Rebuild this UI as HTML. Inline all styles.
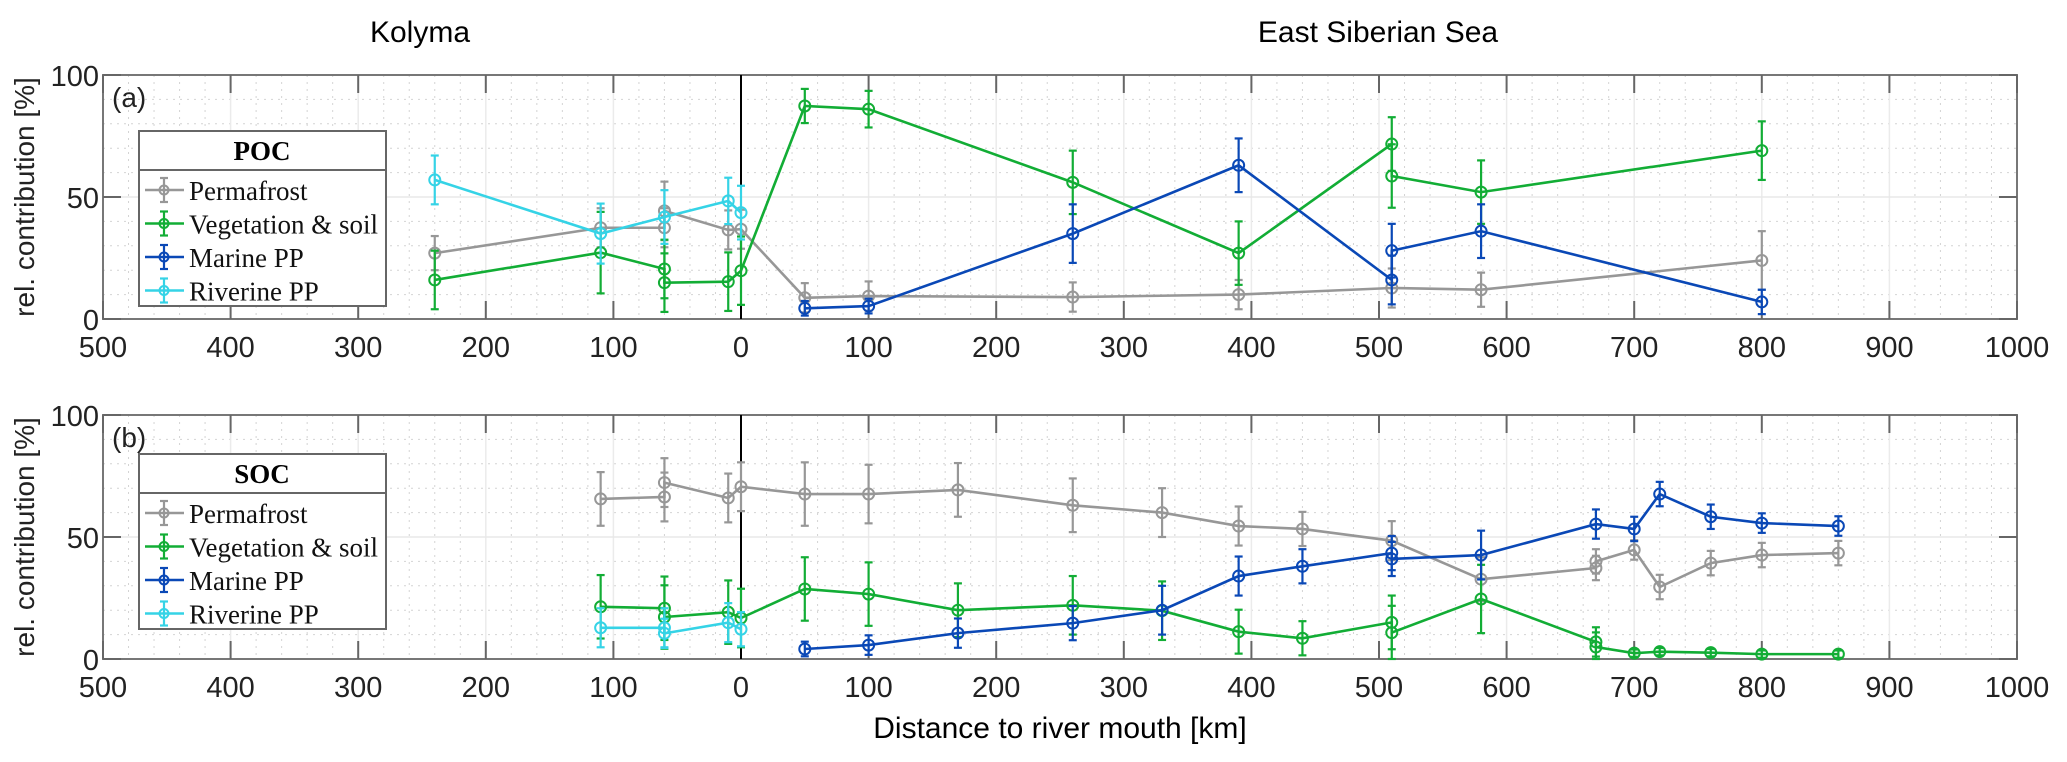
<!DOCTYPE html>
<html><head><meta charset="utf-8">
<style>
html,body{margin:0;padding:0;background:#fff;}
svg{display:block;}
text{font-family:"Liberation Sans",sans-serif;}
.serif{font-family:"Liberation Serif",serif;}
</style></head>
<body>
<svg id="chart" width="2067" height="762" viewBox="0 0 2067 762" xmlns="http://www.w3.org/2000/svg">
<text x="420" y="42" font-size="30" text-anchor="middle">Kolyma</text>
<text x="1378" y="42" font-size="30" text-anchor="middle">East Siberian Sea</text>
<text x="1060" y="738" font-size="30" text-anchor="middle">Distance to river mouth [km]</text>
<g id="panels"></g>
</svg>
<script>
// ---- data ----
const xTicks = [-500,-400,-300,-200,-100,0,100,200,300,400,500,600,700,800,900,1000];
const xTickLabels = ["500","400","300","200","100","0","100","200","300","400","500","600","700","800","900","1000"];
const yTicks = [0,50,100];
const yTickLabels = ["0","50","100"];
const seriesNames = ["Permafrost","Vegetation & soil","Marine PP","Riverine PP"];

// POC (panel a): x distance, y value, e error
const pocPermX = [-240,-110,-60,-60,-10,0,50,100,260,390,510,580,800];
const pocPermY = [27,37.4,37.4,44.3,36.5,36.8,8.7,9.4,9,10,12.7,12,24];
const pocPermE = [7,8,8,12,8,8,6,6,6,6,8,7,12];
const pocVegX = [-240,-110,-60,-60,-10,0,50,100,260,390,510,510,580,800];
const pocVegY = [16,27.2,20.5,14.9,15.3,19.8,87.3,86,56,27,71.7,58.6,52,69];
const pocVegE = [12,16.7,12,12,12,14,7,7.5,13,13,11,13,13,12];
const pocMarX = [50,100,260,390,510,510,580,800];
const pocMarY = [4.4,5.3,35,63,16,28,36,7];
const pocMarE = [3,3,12,11,10,11,11,5];
const pocRivX = [-240,-110,-60,-10,0];
const pocRivY = [57,35,41.8,48.4,43.6];
const pocRivE = [10,12.3,11,9.5,11];

// SOC (panel b)
const socPermX = [-110,-60,-60,-10,0,50,100,170,260,330,390,440,510,580,670,670,700,720,760,800,860];
const socPermY = [65.6,66.4,72.3,66,70.6,67.6,67.6,69.3,63,60,54.5,53.3,48.5,32.7,37.3,40,44.7,29.5,39.3,42.6,43.4];
const socPermE = [11,10,10,10,10,13,12,11,11,10,8,7,8,9,5,5,4,5,5,5,5];
const socVegX = [-110,-60,-60,-10,0,50,100,170,260,330,390,440,510,510,580,670,670,700,720,760,800,860];
const socVegY = [21.4,20.8,17.2,19.2,16.8,28.7,26.6,20,22,19.8,11.2,8.5,15,10.8,24.6,7,4.9,2.4,3,2.6,2,2];
const socVegE = [13,13,13,13,12,13,13,11,12,12,9,7,11,11,14,6,6,1.5,1.5,1.5,1.5,1.5];
const socMarX = [50,100,170,260,330,390,440,510,510,580,670,700,720,760,800,860];
const socMarY = [4.1,5.7,10.6,14.7,20,34,38,43.4,41,42.6,55.3,53.3,67.6,58.3,55.7,54.5];
const socMarE = [3,4,6,7,10,8,7,7,7,10,6,5,5,5,4,4];
const socRivX = [-110,-60,-60,-10,0];
const socRivY = [12.8,12.8,10.5,14.9,12.2];
const socRivE = [8,8,6,8,7];

const colors = ["#979797","#12ad35","#0a48b6","#35d3e6"];

// ---- layout ----
const L = 103, R = 2017;
const panels = [
  {top:75, bot:319, tag:"(a)", name:"poc", title:"POC",
   series:[[pocPermX,pocPermY,pocPermE],[pocVegX,pocVegY,pocVegE],[pocMarX,pocMarY,pocMarE],[pocRivX,pocRivY,pocRivE]],
   legTop:131, legBot:306},
  {top:415, bot:659, tag:"(b)", name:"soc", title:"SOC",
   series:[[socPermX,socPermY,socPermE],[socVegX,socVegY,socVegE],[socMarX,socMarY,socMarE],[socRivX,socRivY,socRivE]],
   legTop:454, legBot:629}
];
const NS = "http://www.w3.org/2000/svg";
const root = document.getElementById('panels');
function mk(tag, attrs, parent){
  const e = document.createElementNS(NS, tag);
  for (const k in attrs) e.setAttribute(k, attrs[k]);
  (parent||root).appendChild(e);
  return e;
}
const xs = v => L + (v + 500) / 1500 * (R - L);

panels.forEach((p) => {
  const ys = v => p.bot - v / 100 * (p.bot - p.top);
  const g = mk('g', {});
  
  
  // minor grid
  for (let v = -500; v <= 1000; v += 20) {
    if (v % 100 === 0) continue;
    mk('line', {x1:xs(v), x2:xs(v), y1:p.top, y2:p.bot, stroke:'#d4d4d4', 'stroke-width':1, 'stroke-dasharray':'2,5'}, g);
  }
  for (let v = 10; v < 100; v += 10) {
    if (v === 50) continue;
    mk('line', {x1:L, x2:R, y1:ys(v), y2:ys(v), stroke:'#d4d4d4', 'stroke-width':1, 'stroke-dasharray':'2,5'}, g);
  }
  // major grid
  xTicks.forEach(v => mk('line', {x1:xs(v), x2:xs(v), y1:p.top, y2:p.bot, stroke:'#ebebeb', 'stroke-width':1.5}, g));
  mk('line', {x1:L, x2:R, y1:ys(50), y2:ys(50), stroke:'#e8e8e8', 'stroke-width':1.5}, g);
  // axes box
  const box = mk('rect', {x:L, y:p.top, width:R-L, height:p.bot-p.top, fill:'none', stroke:'#777', 'stroke-width':2}, g);
  
  
  // ticks
  xTicks.forEach((v,i) => {
    mk('line', {x1:xs(v), x2:xs(v), y1:p.bot, y2:p.bot-18, stroke:'#666', 'stroke-width':2}, g);
    mk('line', {x1:xs(v), x2:xs(v), y1:p.top, y2:p.top+18, stroke:'#666', 'stroke-width':2}, g);
    const t = mk('text', {x:xs(v), y:p.bot+38, 'font-size':29, 'text-anchor':'middle', fill:'#222'}, g);
    t.textContent = xTickLabels[i];
    
    
  });
  yTicks.forEach((v,i) => {
    mk('line', {x1:L, x2:L+18, y1:ys(v), y2:ys(v), stroke:'#666', 'stroke-width':2}, g);
    mk('line', {x1:R, x2:R-18, y1:ys(v), y2:ys(v), stroke:'#666', 'stroke-width':2}, g);
    const t = mk('text', {x:L-4, y:ys(v)+11, 'font-size':29, 'text-anchor':'end', fill:'#222'}, g);
    t.textContent = yTickLabels[i];
    
    
  });
  // y title
  const yc = (p.top + p.bot) / 2;
  const yt = mk('text', {x:0, y:0, 'font-size':28, 'text-anchor':'middle', transform:'translate(34,'+yc+') rotate(-90)', fill:'#222'}, g);
  yt.textContent = 'rel. contribution [%]';
  
  
  // panel tag
  const tg = mk('text', {x:112, y:p.top+32, 'font-size':28, fill:'#222'}, g);
  tg.textContent = p.tag;
  
  
  // zero line
  mk('line', {x1:xs(0), x2:xs(0), y1:p.top, y2:p.bot, stroke:'#000', 'stroke-width':2}, g);
  // series
  p.series.forEach((s, si) => {
    const [X, Y, E] = s;
    const sg = mk('g', {}, g);
    
    
    const pts = X.map((x,i) => xs(x) + ',' + ys(Y[i])).join(' ');
    mk('polyline', {points:pts, fill:'none', stroke:colors[si], 'stroke-width':2.6}, sg);
    X.forEach((x,i) => {
      const cx = xs(x), cy = ys(Y[i]), e1 = ys(Math.min(100,Y[i]+E[i])), e0 = ys(Math.max(0,Y[i]-E[i]));
      mk('line', {x1:cx, x2:cx, y1:e0, y2:e1, stroke:colors[si], 'stroke-width':2.2}, sg);
      mk('line', {x1:cx-4, x2:cx+4, y1:e0, y2:e0, stroke:colors[si], 'stroke-width':2.2}, sg);
      mk('line', {x1:cx-4, x2:cx+4, y1:e1, y2:e1, stroke:colors[si], 'stroke-width':2.2}, sg);
      const c = mk('circle', {cx:cx, cy:cy, r:5.5, fill:'none', stroke:colors[si], 'stroke-width':2}, sg);
      
      
    });
  });
  // legend
  const lg = mk('g', {}, g);
  
  
  mk('rect', {x:139, y:p.legTop, width:247, height:p.legBot-p.legTop, fill:'#fff', stroke:'#666', 'stroke-width':2}, lg);
  const hdrY = p.legTop + 39;
  mk('line', {x1:139, x2:386, y1:hdrY, y2:hdrY, stroke:'#666', 'stroke-width':2}, lg);
  const ht = mk('text', {x:262, y:p.legTop+29, 'font-size':27, 'font-weight':'bold', 'text-anchor':'middle', class:'serif'}, lg);
  ht.textContent = p.title;
  
  
  seriesNames.forEach((n, si) => {
    const ey = hdrY + 20 + si * 33.5;
    const eg = mk('g', {}, lg);
    
    
    mk('line', {x1:145, x2:184, y1:ey, y2:ey, stroke:colors[si], 'stroke-width':2.4}, eg);
    mk('line', {x1:164, x2:164, y1:ey-12, y2:ey+12, stroke:colors[si], 'stroke-width':2.2}, eg);
    mk('line', {x1:160, x2:168, y1:ey-12, y2:ey-12, stroke:colors[si], 'stroke-width':2.2}, eg);
    mk('line', {x1:160, x2:168, y1:ey+12, y2:ey+12, stroke:colors[si], 'stroke-width':2.2}, eg);
    mk('circle', {cx:164, cy:ey, r:4.5, fill:'none', stroke:colors[si], 'stroke-width':2}, eg);
    const t = mk('text', {x:189, y:ey+10, 'font-size':27, class:'serif', fill:'#111'}, eg);
    t.textContent = n;
  });
});
</script>
</body></html>
